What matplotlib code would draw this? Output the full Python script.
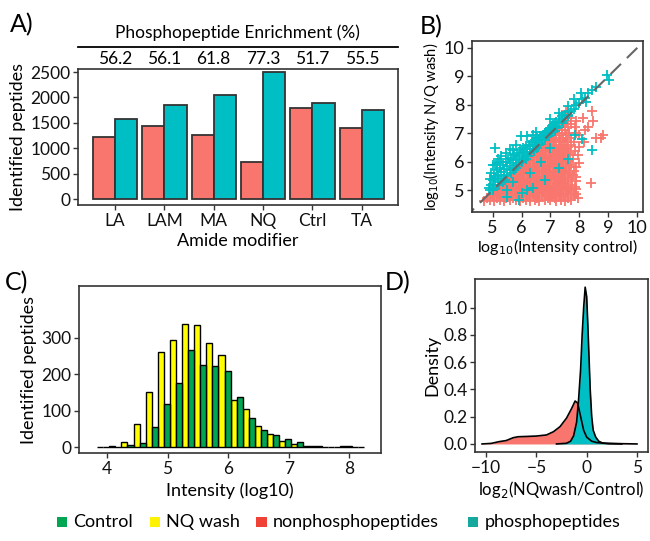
import numpy as np
import matplotlib
matplotlib.use("Agg")
import matplotlib.pyplot as plt
from matplotlib.patches import Rectangle

plt.rcParams['font.family'] = ['Lato', 'DejaVu Sans']

# ---------------- data ----------------
# A) identified peptides per amide modifier
modifiers = ["LA", "LAM", "MA", "NQ", "Ctrl", "TA"]
nonphospho_counts = [1224, 1446, 1263, 720, 1787, 1403]
phospho_counts = [1571, 1859, 2042, 2494, 1898, 1758]
enrichment = ["56.2", "56.1", "61.8", "77.3", "51.7", "55.5"]

# B) scatter, log10 intensities (control, N/Q wash)
phospho_pts = [
    (4.9, 5.0), (4.95, 5.2), (5.0, 5.1), (5.0, 5.35), (5.05, 5.5), (5.1, 5.2), (5.1, 5.45), (5.15, 5.7),
    (5.2, 5.3), (5.2, 5.55), (5.25, 5.8), (5.3, 5.4), (5.3, 5.65), (5.35, 5.9), (5.4, 5.5), (5.4, 5.75),
    (5.45, 6.0), (5.5, 5.55), (5.5, 5.85), (5.55, 6.1), (5.6, 5.7), (5.6, 5.95), (5.65, 6.15), (5.7, 5.8),
    (5.7, 6.05), (5.75, 6.25), (5.8, 5.9), (5.8, 6.1), (5.85, 6.3), (5.9, 5.95), (5.9, 6.2), (5.95, 6.4),
    (6.0, 6.05), (6.0, 6.3), (6.05, 6.5), (6.1, 6.15), (6.1, 6.35), (6.15, 6.55), (6.2, 6.25), (6.2, 6.45),
    (6.25, 6.6), (6.3, 6.35), (6.3, 6.55), (6.35, 6.7), (6.4, 6.45), (6.4, 6.6), (6.45, 6.75), (6.5, 6.55),
    (6.5, 6.7), (6.55, 6.85), (6.6, 6.65), (6.6, 6.8), (6.65, 6.9), (6.7, 6.75), (6.7, 6.9), (6.75, 6.95),
    (6.8, 6.85), (6.8, 7.0), (6.85, 7.05), (6.9, 6.95), (6.9, 7.1), (6.95, 7.15), (7.0, 7.05), (7.0, 7.2),
    (7.05, 7.25), (7.1, 7.15), (7.1, 7.3), (7.15, 7.35), (7.2, 7.25), (7.2, 7.4), (7.3, 7.35), (7.3, 7.5),
    (7.4, 7.45), (7.4, 7.6), (7.5, 7.55), (7.5, 7.65), (7.6, 7.65), (7.6, 7.75), (7.7, 7.8), (7.8, 7.85),
    (7.9, 8.0), (8.0, 8.05), (8.1, 8.2), (8.2, 8.25), (8.3, 8.4),
    (5.02, 5.02), (5.22, 5.2), (5.42, 5.38), (5.62, 5.6), (5.82, 5.78), (6.02, 5.98), (6.22, 6.2),
    (6.42, 6.38), (6.62, 6.6), (6.82, 6.78), (7.02, 7.0), (7.22, 7.2), (7.42, 7.38), (7.62, 7.6),
    (7.15, 7.1), (6.95, 6.9), (6.55, 6.5), (6.15, 6.1), (5.75, 5.7), (5.35, 5.3),
    (5.09, 6.48), (5.98, 6.91), (5.0, 5.9), (4.88, 5.08), (5.2, 6.1), (5.6, 6.45), (5.3, 6.2), (5.8, 6.6),
    (6.2, 6.9), (6.5, 7.05), (7.0, 7.5), (7.3, 7.7), (7.6, 7.95), (7.82, 8.2), (8.06, 8.4), (8.22, 8.11),
    (8.43, 8.52), (8.57, 8.64), (8.94, 9.05), (9.03, 8.87), (4.95, 5.6), (5.1, 5.9), (5.25, 6.0),
    (5.45, 6.3), (5.7, 6.4), (6.4, 6.95), (4.92, 5.4), (5.15, 5.95),
    (6.0, 4.9), (6.4, 5.1), (7.6, 6.1), (8.44, 6.42), (8.1, 6.8), (5.7, 5.3), (6.3, 5.6), (6.69, 6.01),
    (6.98, 6.48), (5.9, 4.65), (5.5, 5.0), (7.84, 6.95), (5.5, 4.75), (6.2, 5.0), (7.3, 5.8), (6.8, 5.35),
]
nonphospho_rows = [
    (4.62, [4.7, 5.05, 5.4, 5.95, 6.3, 6.6, 7.2, 7.5]),
    (4.67, [4.9, 5.25, 5.6, 5.8, 6.15, 6.45, 6.8, 7.0, 7.35, 7.7]),
    (4.74, [4.8, 5.15, 5.45, 5.7, 6.05, 6.3, 6.55, 6.9, 7.15, 7.6, 7.95]),
    (4.8, [5.0, 5.3, 5.55, 5.85, 6.0, 6.22, 6.45, 6.7, 7.05, 7.3, 7.45, 7.82]),
    (4.86, [4.95, 5.2, 5.4, 5.65, 5.9, 6.15, 6.38, 6.6, 6.85, 7.12, 7.38, 7.62, 7.88]),
    (4.93, [5.1, 5.3, 5.52, 5.78, 6.02, 6.25, 6.5, 6.75, 6.98, 7.22, 7.55, 7.8]),
    (5.0, [5.2, 5.45, 5.65, 5.88, 6.1, 6.35, 6.58, 6.82, 7.05, 7.32, 7.65]),
    (5.06, [5.15, 5.35, 5.58, 5.8, 6.0, 6.2, 6.45, 6.68, 6.9, 7.15, 7.42, 7.72, 7.9]),
    (5.13, [5.3, 5.5, 5.72, 5.95, 6.15, 6.38, 6.6, 6.85, 7.1, 7.35, 7.58, 7.85]),
    (5.2, [5.38, 5.62, 5.82, 6.05, 6.28, 6.5, 6.72, 6.95, 7.22, 7.48, 7.75]),
    (5.27, [5.45, 5.68, 5.9, 6.1, 6.32, 6.55, 6.78, 7.0, 7.28, 7.52, 8.4]),
    (5.34, [5.52, 5.75, 5.98, 6.2, 6.42, 6.65, 6.88, 7.12, 7.36, 7.62, 7.9]),
    (5.41, [5.6, 5.82, 6.05, 6.25, 6.48, 6.7, 6.95, 7.18, 7.42, 7.7]),
    (5.48, [5.65, 5.88, 6.1, 6.33, 6.55, 6.78, 7.02, 7.25, 7.5, 7.88]),
    (5.55, [5.72, 5.95, 6.18, 6.4, 6.62, 6.85, 7.08, 7.32, 7.6, 7.78]),
    (5.62, [5.8, 6.02, 6.25, 6.48, 6.7, 6.92, 7.15, 7.4, 7.68]),
    (5.69, [5.86, 6.1, 6.32, 6.55, 6.78, 7.0, 7.22, 7.48, 7.8]),
    (5.76, [5.95, 6.16, 6.4, 6.62, 6.85, 7.08, 7.3, 7.55]),
    (5.83, [6.02, 6.24, 6.46, 6.7, 6.92, 7.15, 7.38, 7.65, 7.9]),
    (5.9, [6.08, 6.3, 6.52, 6.76, 6.98, 7.22, 7.45, 7.72]),
    (5.97, [6.15, 6.38, 6.6, 6.82, 7.05, 7.3, 7.55, 8.0]),
    (6.04, [6.22, 6.44, 6.66, 6.9, 7.12, 7.36, 7.62]),
    (6.11, [6.3, 6.52, 6.74, 6.96, 7.2, 7.44, 7.78]),
    (6.18, [6.36, 6.58, 6.8, 7.03, 7.26, 7.52]),
    (6.25, [6.42, 6.64, 6.86, 7.1, 7.32, 7.6, 7.95]),
    (6.32, [6.5, 6.72, 6.94, 7.16, 7.4, 7.68]),
    (6.39, [6.56, 6.78, 7.0, 7.22, 7.46, 7.85]),
    (6.46, [6.62, 6.85, 7.08, 7.3, 7.55]),
    (6.53, [6.7, 6.92, 7.14, 7.36, 7.62, 7.98]),
    (6.6, [6.76, 6.98, 7.2, 7.42, 7.7]),
    (6.68, [6.85, 7.06, 7.28, 7.5, 7.8, 8.15]),
    (6.76, [6.92, 7.12, 7.34, 7.58]),
    (6.85, [7.0, 7.2, 7.45, 7.72, 8.57, 8.75]),
    (6.93, [7.08, 7.3, 7.55, 8.0, 8.8]),
    (7.02, [7.18, 7.4, 7.65, 7.9]),
    (7.12, [7.3, 7.5, 8.2]),
    (7.22, [7.4, 7.6, 7.85, 8.3]),
    (7.33, [7.5, 7.72]),
    (7.42, [7.58, 7.88, 8.46]),
    (7.55, [7.7, 8.13]),
    (7.8, [7.53, 8.43]),
]

# C) histogram of intensities, bins of 0.2 (centres)
bin_centres = [3.94, 4.14, 4.34, 4.54, 4.74, 4.94, 5.14, 5.34, 5.54, 5.74, 5.94,
               6.14, 6.34, 6.54, 6.74, 6.94, 7.14, 7.34, 7.54, 7.74, 7.94, 8.14]
nq_counts = [0, 4, 14, 63, 151, 262, 295, 339, 335, 286, 253,
             130, 105, 57, 36, 18, 9, 2, 2, 0, 4, 0]
control_counts = [0, 0, 5, 12, 55, 119, 175, 266, 226, 223, 208,
                  137, 81, 47, 32, 21, 15, 4, 1, 1, 2, 0]

# D) density of log2 ratio
nonphospho_dx = [-10.4, -9.5, -8.7, -8.0, -7.3, -6.8, -6.0, -5.0, -4.0, -3.3, -2.65, -2.0,
                 -1.5, -1.15, -0.9, -0.6, -0.3, 0.0, 0.5, 1.0, 2.0, 3.5, 5.0]
nonphospho_dy = [0.0, 0.004, 0.017, 0.025, 0.046, 0.053, 0.055, 0.058, 0.066, 0.09, 0.127, 0.19,
                 0.26, 0.315, 0.30, 0.2, 0.1, 0.05, 0.02, 0.01, 0.005, 0.002, 0.0]
phospho_dx = [-3.0, -2.0, -1.6, -1.3, -1.0, -0.8, -0.6, -0.45, -0.3, -0.15, 0.0, 0.1,
              0.25, 0.35, 0.5, 0.65, 0.9, 1.2, 1.6, 2.2, 3.5]
phospho_dy = [0.0, 0.005, 0.02, 0.06, 0.16, 0.33, 0.55, 0.8, 1.0, 1.15, 1.08, 0.9,
              0.6, 0.4, 0.2, 0.1, 0.05, 0.02, 0.006, 0.002, 0.0]

red = "#F8766D"
cyan = "#00BFC4"
dark = "#333333"

fig = plt.figure(figsize=(6.5, 5.41), dpi=100)


def style(ax, size=12.5):
    for s in ax.spines.values():
        s.set_color(dark)
        s.set_linewidth(1.2)
    ax.tick_params(colors=dark, labelcolor="#111111", labelsize=size, length=3.5, width=1.0, pad=2)


# ---------------- A ----------------
axA = fig.add_axes([0.12, 0.621, 0.492, 0.2514])
pos = np.arange(len(modifiers))
w = 0.45
axA.bar(pos - w / 2, nonphospho_counts, w, color=red, edgecolor=dark, linewidth=1.3)
axA.bar(pos + w / 2, phospho_counts, w, color=cyan, edgecolor=dark, linewidth=1.3)
axA.set_xlim(-0.75, 5.73)
axA.set_ylim(-118, 2560)
axA.set_yticks([0, 500, 1000, 1500, 2000, 2500])
axA.set_xticks(pos)
axA.set_xticklabels(modifiers)
style(axA)
axA.set_xlabel("Amide modifier", fontsize=13, labelpad=3)
axA.set_ylabel("Identified peptides", fontsize=13, labelpad=3)
for p, e in zip(pos, enrichment):
    axA.text(p, 1.075, e, transform=axA.get_xaxis_transform(), ha="center", va="center", fontsize=12.5)
axA.plot([0, 1], [1.16, 1.16], transform=axA.transAxes, color="black", lw=1.3, clip_on=False)
axA.text(0.5, 1.27, "Phosphopeptide Enrichment (%)", transform=axA.transAxes,
         ha="center", va="center", fontsize=12.5)

# ---------------- B ----------------
axB = fig.add_axes([0.7262, 0.6081, 0.2631, 0.3161])
rx = [x for yv, xs in nonphospho_rows for x in xs]
ry = [yv for yv, xs in nonphospho_rows for x in xs]
axB.scatter(rx, ry, marker="+", s=45, color=red, linewidths=1.3)
px = [p[0] for p in phospho_pts]
py = [p[1] for p in phospho_pts]
axB.scatter(px, py, marker="+", s=45, color=cyan, linewidths=1.3)
axB.plot([4, 11], [4, 11], color="#666666", lw=1.5, dashes=(7, 4))
axB.set_xlim(4.29, 10.2)
axB.set_ylim(4.24, 10.24)
axB.set_xticks([5, 6, 7, 8, 9, 10])
axB.set_yticks([5, 6, 7, 8, 9, 10])
style(axB, 13)
axB.set_xlabel(r"log$_{10}$(Intensity control)", fontsize=11.5, labelpad=1)
axB.set_ylabel(r"log$_{10}$(Intensity N/Q wash)", fontsize=10.5, labelpad=2)

# ---------------- C ----------------
axC = fig.add_axes([0.1215, 0.1621, 0.4646, 0.3098])
bc = np.array(bin_centres)
axC.bar(bc - 0.05, nq_counts, 0.1, color="#FFFF00", edgecolor="black", linewidth=1.0)
axC.bar(bc + 0.05, control_counts, 0.1, color="#00A651", edgecolor="black", linewidth=1.0)
axC.set_xlim(3.54, 8.52)
axC.set_ylim(-17, 443)
axC.set_yticks([0, 100, 200, 300])
axC.set_xticks([4, 5, 6, 7, 8])
style(axC)
axC.set_xlabel("Intensity (log10)", fontsize=13, labelpad=4)
axC.set_ylabel("Identified peptides", fontsize=13, labelpad=3)

# ---------------- D ----------------
axD = fig.add_axes([0.7308, 0.164, 0.2662, 0.3198])
axD.fill_between(nonphospho_dx, nonphospho_dy, color=red, lw=0)
axD.plot(nonphospho_dx, nonphospho_dy, color="black", lw=1.2)
axD.fill_between(phospho_dx, phospho_dy, color=cyan, lw=0)
axD.plot(phospho_dx, phospho_dy, color="black", lw=1.2)
axD.set_xlim(-11.1, 6.1)
axD.set_ylim(-0.061, 1.208)
axD.set_xticks([-10, -5, 0, 5])
axD.set_yticks([0.0, 0.2, 0.4, 0.6, 0.8, 1.0])
axD.set_yticklabels(["0.0", "0.2", "0.4", "0.6", "0.8", "1.0"])
style(axD)
axD.set_xlabel(r"log$_2$(NQwash/Control)", fontsize=12, labelpad=2)
axD.set_ylabel("Density", fontsize=13, labelpad=2)

# panel letters
for lbl, x, y in [("A)", 0.015, 0.955), ("B)", 0.645, 0.95), ("C)", 0.008, 0.478), ("D)", 0.592, 0.478)]:
    fig.text(x, y, lbl, fontsize=18, ha="left", va="center")

# legend
items = [("Control", "#00A651"), ("NQ wash", "#FFF200"),
         ("nonphosphopeptides", "#EF4136"), ("phosphopeptides", "#16A79D")]
xs = [0.087, 0.23, 0.394, 0.72]
for (name, col), x0 in zip(items, xs):
    fig.patches.append(Rectangle((x0, 0.026), 0.016, 0.019, transform=fig.transFigure,
                                 facecolor=col, edgecolor="none"))
    fig.text(x0 + 0.026, 0.036, name, fontsize=13, ha="left", va="center")

fig.savefig("out.png", dpi=100)
